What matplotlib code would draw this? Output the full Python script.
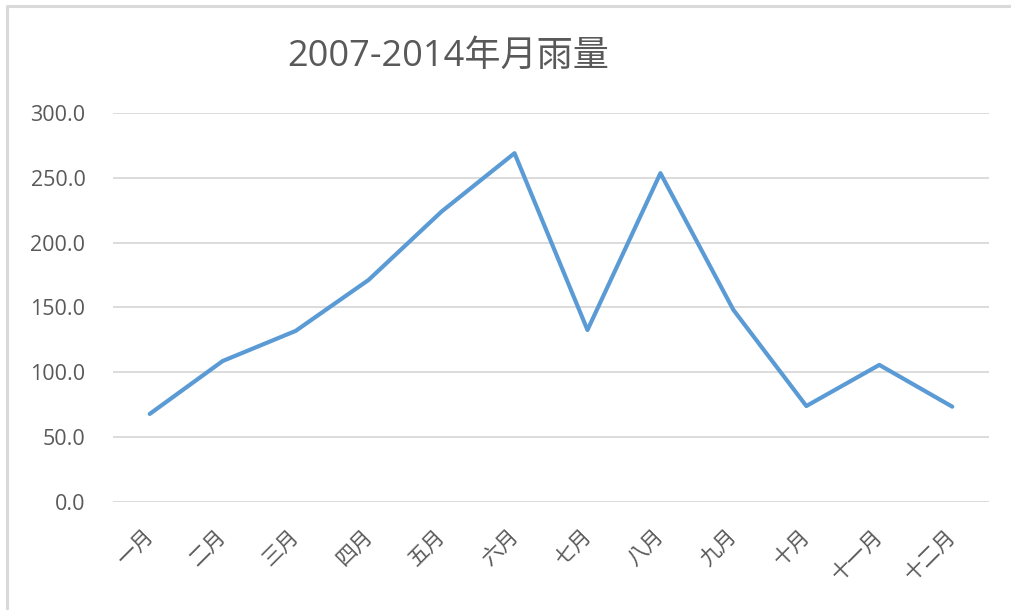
import matplotlib.pyplot as plt
from matplotlib.lines import Line2D

plt.rcParams['font.family'] = ['Open Sans', 'Noto Sans CJK TC', 'DejaVu Sans']

months = ["一月", "二月", "三月", "四月", "五月", "六月",
          "七月", "八月", "九月", "十月", "十一月", "十二月"]
rain = [67.9, 108.7, 131.9, 171.2, 223.9, 268.9,
        132.6, 253.5, 148.1, 74.0, 105.7, 73.5]
yticks = [0, 50, 100, 150, 200, 250, 300]

grey = "#595959"

fig = plt.figure(figsize=(10.11, 6.1), dpi=100)
ax = fig.add_axes([0.112, 0.177, 0.866, 0.638])

x = list(range(len(months)))
ax.plot(x, rain, color="#5B9BD5", linewidth=3, solid_capstyle="round", zorder=3)

ax.set_xlim(-0.5, len(months) - 0.5)
ax.set_ylim(0, 300)
ax.set_yticks(yticks)
ax.set_yticklabels([f"{v:.1f}" for v in yticks])
ax.yaxis.grid(True, color="#d9d9d9", linewidth=1.3)
ax.set_axisbelow(True)
for s in ax.spines.values():
    s.set_visible(False)

ax.tick_params(axis="y", length=0, pad=20, labelsize=15.5, labelcolor=grey)
ax.tick_params(axis="x", length=0, pad=22, labelcolor=grey)
ax.set_xticks(x)
ax.set_xticklabels(months, rotation=45, ha="right", va="center",
                   rotation_mode="anchor", fontsize=15,
                   family=["Noto Sans CJK TC", "DejaVu Sans"], fontweight="light")

fig.text(0.443, 0.907, "2007-2014年月雨量", ha="center", va="center",
         fontsize=26, color=grey)

# chart frame (only left and top edges show in the screenshot)
fx, fy = 7 / 1011, 1 - 6 / 610
fig.lines.append(Line2D([fx, fx, 1.0], [0.0, fy, fy], transform=fig.transFigure,
                        color="#d9d9d9", linewidth=2.2))

fig.savefig("out.png", dpi=100)
